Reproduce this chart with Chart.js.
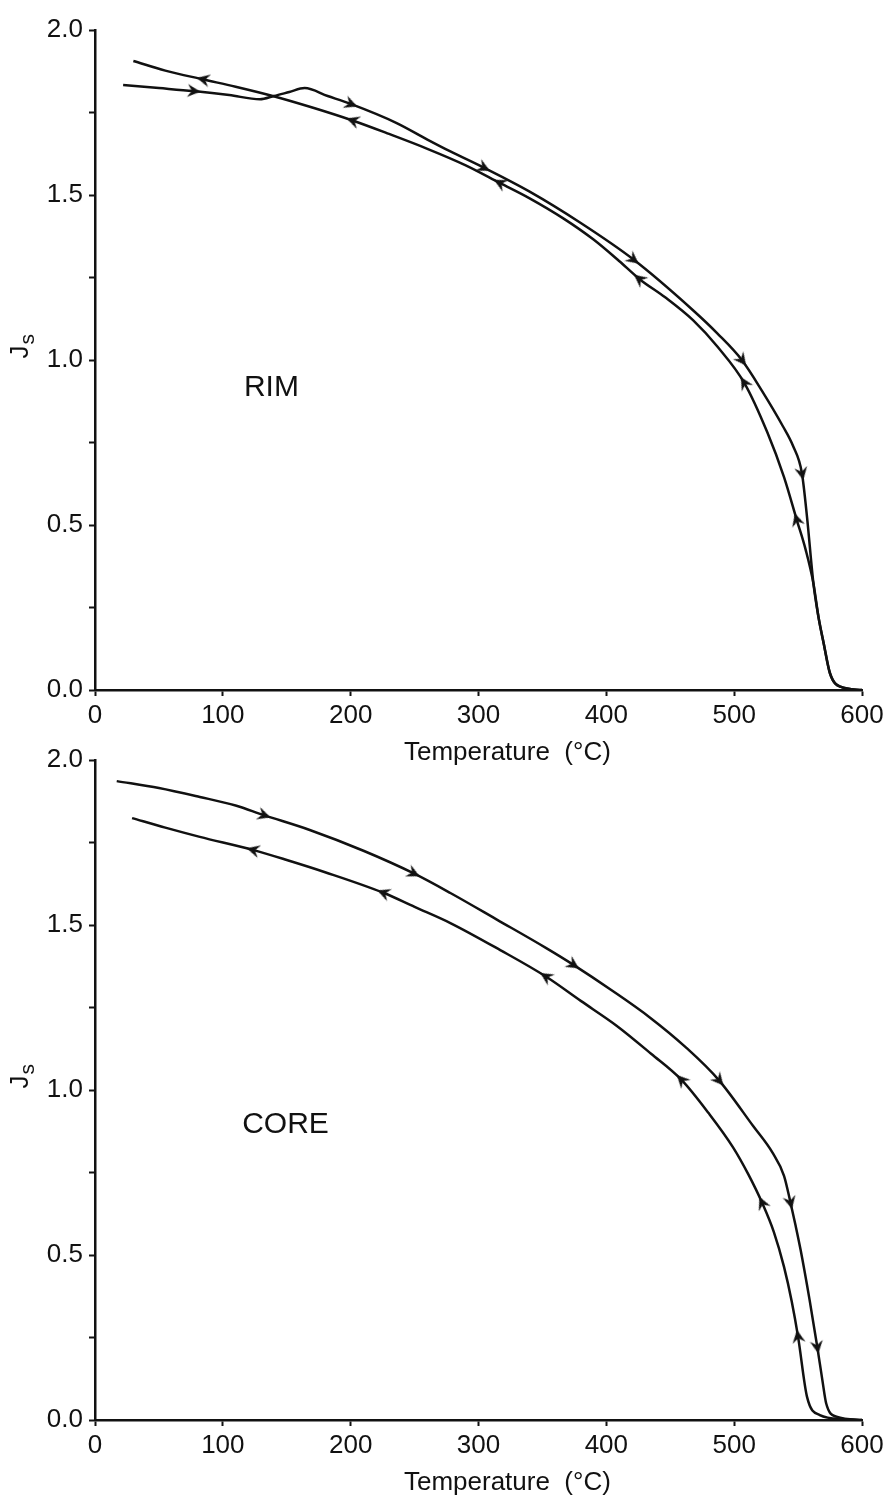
<!DOCTYPE html>
<html>
<head>
<meta charset="utf-8">
<script src="https://cdn.jsdelivr.net/npm/chart.js@4.4.0/dist/chart.umd.min.js"></script>
<style>
  html, body { margin: 0; padding: 0; background: #fff; overflow: hidden; }
  #wrap { position: relative; width: 889px; height: 1500px; overflow: hidden; }
  #wrap canvas { position: absolute; left: 0; }
  #rimChart { top: 0; }
  #coreChart { top: 730px; }
</style>
</head>
<body>
<div id="wrap">
  <canvas id="rimChart" width="889" height="780"></canvas>
  <canvas id="coreChart" width="889" height="780"></canvas>
</div>
<script>
// RIM - heating run (T ascending)
const rimHeatT = [22, 50, 77, 105, 129, 140, 152, 164, 182, 200, 236, 260, 278, 304, 340, 380, 421, 468, 487, 506, 522, 538, 546, 553, 557, 562, 566, 570, 575, 583, 600];
const rimHeatJ = [1.833, 1.824, 1.815, 1.803, 1.79, 1.80, 1.812, 1.824, 1.80, 1.776, 1.718, 1.668, 1.632, 1.583, 1.51, 1.415, 1.305, 1.15, 1.08, 1.0, 0.905, 0.80, 0.74, 0.657, 0.524, 0.323, 0.22, 0.142, 0.05, 0.01, 0.0];
const rimHeatArrows = [77, 200, 304, 421, 506, 553];

// RIM - cooling run, in the order it was measured (600 -> 30)
const rimCoolT = [600, 583, 575, 570, 566, 562, 556, 549, 539, 526, 508, 487, 468, 446, 426, 410, 390, 366, 340, 317, 290, 260, 230, 202, 170, 139, 110, 85, 55, 30];
const rimCoolJ = [0.0, 0.01, 0.05, 0.142, 0.22, 0.323, 0.424, 0.515, 0.645, 0.78, 0.93, 1.04, 1.12, 1.19, 1.245, 1.30, 1.365, 1.43, 1.49, 1.536, 1.59, 1.64, 1.685, 1.725, 1.765, 1.80, 1.828, 1.85, 1.877, 1.906];
const rimCoolArrows = [549, 508, 426, 317, 202, 85];

// CORE - heating run
const coreHeatT = [17, 50, 82, 110, 132, 168, 210, 249, 278, 315, 353, 374, 405, 434, 462, 488, 515, 530, 539, 544, 548, 552, 559, 565, 569, 572, 580, 600];
const coreHeatJ = [1.936, 1.915, 1.888, 1.862, 1.833, 1.788, 1.725, 1.657, 1.597, 1.515, 1.43, 1.38, 1.30, 1.22, 1.13, 1.03, 0.89, 0.81, 0.74, 0.66, 0.59, 0.515, 0.364, 0.222, 0.121, 0.05, 0.01, 0.0];
const coreHeatArrows = [132, 249, 374, 488, 544, 565];

// CORE - cooling run (600 -> 29)
const coreCoolT = [600, 585, 567, 557, 550, 545, 539, 531, 522, 511, 499, 480, 459, 435, 408, 380, 353, 317, 278, 250, 226, 180, 150, 124, 82, 55, 29];
const coreCoolJ = [0.0, 0.003, 0.015, 0.07, 0.252, 0.36, 0.464, 0.57, 0.657, 0.745, 0.827, 0.93, 1.03, 1.11, 1.195, 1.27, 1.343, 1.424, 1.506, 1.555, 1.597, 1.66, 1.697, 1.727, 1.767, 1.795, 1.824];
const coreCoolArrows = [550, 522, 459, 353, 226, 124];

const xMin = 0, xMax = 600, xStep = 100;
const yMin = 0, yMax = 2, yStep = 0.25, yLabelStep = 0.5;

const ink = '#111';
const family = '"Liberation Sans", Arial, Helvetica, sans-serif';

// barbed arrow head, pointing along +x
const makeArrowHead = () => {
  const c = document.createElement('canvas');
  c.width = 18;
  c.height = 18;
  const g = c.getContext('2d');
  g.fillStyle = ink;
  g.beginPath();
  g.moveTo(16, 9);
  g.lineTo(3, 2.5);
  g.lineTo(7.5, 9);
  g.lineTo(3, 15.5);
  g.closePath();
  g.fill();
  return c;
}
const arrowHead = makeArrowHead();

// direction of travel at a point, in screen degrees
const headingAt = (ctx) => {
  const i = ctx.dataIndex;
  if (i === undefined) return 0;
  const chart = ctx.chart;
  const pts = chart.data.datasets[ctx.datasetIndex].data;
  const a = pts[Math.max(i - 1, 0)];
  const b = pts[Math.min(i + 1, pts.length - 1)];
  const dx = chart.scales.x.getPixelForValue(b.x) - chart.scales.x.getPixelForValue(a.x);
  const dy = chart.scales.y.getPixelForValue(b.y) - chart.scales.y.getPixelForValue(a.y);
  return Math.atan2(dy, dx) * 180 / Math.PI;
}

const curve = (T, J, arrows) => ({
  data: T.map((t, i) => ({ x: t, y: J[i] })),
  borderColor: ink,
  borderWidth: 2.5,
  cubicInterpolationMode: 'monotone',
  fill: false,
  pointStyle: arrowHead,
  pointRadius: ctx => arrows.includes(T[ctx.dataIndex]) ? 7 : 0,
  pointHoverRadius: 0,
  pointRotation: headingAt
});

// panel name + the J_s axis symbol (subscript needs two runs of text)
const panelText = {
  id: 'panelText',
  afterDraw(chart, args, opts) {
    const { ctx, scales: { x, y } } = chart;
    ctx.save();
    ctx.fillStyle = ink;
    ctx.font = '30px ' + family;
    ctx.textAlign = 'center';
    ctx.textBaseline = 'middle';
    ctx.fillText(opts.name, x.getPixelForValue(opts.at[0]), y.getPixelForValue(opts.at[1]));

    ctx.translate(opts.symbolX, y.getPixelForValue(opts.symbolAt));
    ctx.rotate(-Math.PI / 2);
    ctx.textAlign = 'left';
    ctx.textBaseline = 'alphabetic';
    ctx.font = '26px ' + family;
    const wJ = ctx.measureText('J').width;
    ctx.font = '21px ' + family;
    const wS = ctx.measureText('s').width;
    const start = -(wJ + wS) / 2;
    ctx.font = '26px ' + family;
    ctx.fillText('J', start, 0);
    ctx.font = '21px ' + family;
    ctx.fillText('s', start + wJ + 1, 6);
    ctx.restore();
  }
};

const makeChart = (id, datasets, name, at) => {
  const tickFont = { family, size: 26 };
  return new Chart(document.getElementById(id), {
    type: 'line',
    data: { datasets },
    plugins: [panelText],
    options: {
      responsive: false,
      animation: false,
      layout: { padding: { top: 30, right: 27, bottom: 0, left: 0 } },
      plugins: {
        legend: { display: false },
        tooltip: { enabled: false },
        panelText: { name, at, symbolX: 28, symbolAt: 1.04 }
      },
      scales: {
        x: {
          type: 'linear',
          min: xMin,
          max: xMax,
          ticks: { stepSize: xStep, font: tickFont, color: ink, padding: 4, maxRotation: 0 },
          grid: { drawOnChartArea: false, tickLength: 6, tickColor: ink, tickWidth: 2 },
          border: { color: ink, width: 2.5 },
          title: {
            display: true,
            text: '        Temperature  (°C)',
            font: tickFont,
            color: ink,
            padding: { top: 0, bottom: 12 }
          },
          afterFit: s => { s.height = 90; }
        },
        y: {
          type: 'linear',
          min: yMin,
          max: yMax,
          ticks: {
            stepSize: yStep,
            font: tickFont,
            color: ink,
            padding: 6,
            callback: v => Math.abs(v / yLabelStep - Math.round(v / yLabelStep)) < 1e-6 ? v.toFixed(1) : ''
          },
          grid: { drawOnChartArea: false, tickLength: 6, tickColor: ink, tickWidth: 2 },
          border: { color: ink, width: 2.5 },
          afterFit: s => { s.width = 95; }
        }
      }
    }
  });
}

const rimChart = makeChart('rimChart', [
  curve(rimHeatT, rimHeatJ, rimHeatArrows),
  curve(rimCoolT, rimCoolJ, rimCoolArrows)
], 'RIM', [138, 0.915]);

const coreChart = makeChart('coreChart', [
  curve(coreHeatT, coreHeatJ, coreHeatArrows),
  curve(coreCoolT, coreCoolJ, coreCoolArrows)
], 'CORE', [149, 0.894]);
</script>
</body>
</html>
